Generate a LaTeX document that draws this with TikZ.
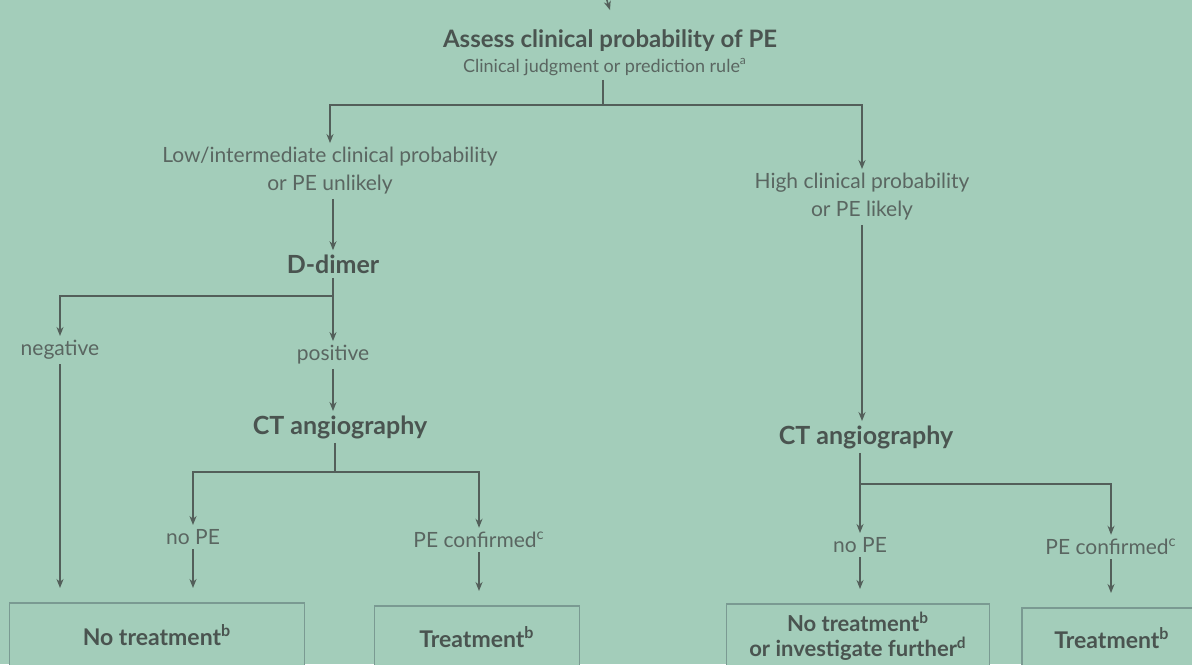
\documentclass[tikz,border=0pt]{standalone}
\usepackage{fontspec}
\setmainfont{Lato}
\usetikzlibrary{arrows.meta}
\definecolor{bg}{HTML}{A3CDBA}
\definecolor{ink}{HTML}{4A5450}
\definecolor{lab}{HTML}{5A6661}
\definecolor{ln}{HTML}{535F5A}
\definecolor{bx}{HTML}{7A9A92}
\tikzset{
  x=0.5pt, y=-0.5pt,
  lbl/.style={text=lab, font=\fontsize{10.5}{14}\selectfont, align=center, inner sep=2pt},
  hd/.style={text=ink, font=\fontsize{12.5}{15}\selectfont\bfseries, align=center, inner sep=2pt},
  outbox/.style={draw=bx, line width=0.8pt, fill=bg, text=ink, font=\fontsize{11.5}{13}\selectfont\bfseries, align=center, anchor=north},
  conn/.style={draw=ln, line width=0.75pt},
  arr/.style={conn, -{Stealth[length=4.5pt,width=3.5pt]}},
  tobox/.style={arr, shorten >=7pt}
}
\begin{document}
\begin{tikzpicture}
\clip (0,0) rectangle (1192,664);
\fill[bg] (0,0) rectangle (1192,664);
% nodes
\node[hd, font=\fontsize{12}{14}\selectfont\bfseries, outer ysep=8pt] (title) at (610,41) {Assess clinical probability of PE};
\node[lbl, font=\fontsize{9}{11}\selectfont] (sub) at (605,67) {Clinical judgment or prediction rule\textsuperscript{a}};
\coordinate (top) at (603,-12);
\coordinate (j1) at (603,105);
\node[lbl] (low) at (330,171) {Low/intermediate clinical probability\\or PE unlikely};
\node[lbl] (high) at (862,197) {High clinical probability\\or PE likely};
\node[hd] (ddimer) at (333,264) {D-dimer};
\coordinate (j2) at (333,296);
\node[lbl] (neg) at (60,350) {negative};
\node[lbl] (pos) at (333,355) {positive};
\node[hd] (ct1) at (340,427) {CT angiography};
\coordinate (j3) at (335,472);
\node[lbl] (nope1) at (193,537) {no PE};
\node[lbl] (conf1) at (479,540) {PE confirmed\textsuperscript{c}};
\node[hd] (ct2) at (866,437) {CT angiography};
\coordinate (j4) at (860,484);
\node[lbl] (nope2) at (860,545) {no PE};
\node[lbl] (conf2) at (1111,547) {PE confirmed\textsuperscript{c}};
\node[outbox, minimum width=147.5pt, minimum height=32pt] (box1) at (157,602) {No treatment\textsuperscript{b}};
\node[outbox, minimum width=102.5pt, minimum height=31pt] (box2) at (477,605) {Treatment\textsuperscript{b}};
\node[outbox, minimum width=131.5pt, minimum height=32pt, font=\fontsize{11}{12.5}\selectfont\bfseries] (box3) at (858,603) {No treatment\textsuperscript{b}\\or investigate further\textsuperscript{d}};
\node[outbox, minimum width=90pt, minimum height=30pt] (box4) at (1112,607) {Treatment\textsuperscript{b}};
% connectors
\draw[arr] (top) -- (title.north);
\draw[conn] (sub.south -| j1) -- (j1);
\draw[arr] (j1) -| (low.north);
\draw[arr] (j1) -| (high.north);
\draw[arr] (low.south -| ddimer) -- (ddimer.north);
\draw[conn] (ddimer.south) -- (j2);
\draw[arr] (j2) -| (neg.north);
\draw[arr] (j2) -- (pos.north);
\draw[arr] (pos.south) -- (pos.south |- ct1.north);
\draw[conn] (ct1.south -| j3) -- (j3);
\draw[arr] (j3) -| (nope1.north);
\draw[arr] (j3) -| (conf1.north);
\draw[tobox] (neg.south) -- (neg.south |- box1.north);
\draw[tobox] (nope1.south) -- (nope1.south |- box1.north);
\draw[tobox] (conf1.south) -- (conf1.south |- box2.north);
\draw[arr] (high.south) -- (high.south |- ct2.north);
\draw[conn] (ct2.south -| j4) -- (j4);
\draw[arr] (j4) -- (nope2.north);
\draw[arr] (j4) -| (conf2.north);
\draw[tobox] (nope2.south) -- (nope2.south |- box3.north);
\draw[tobox] (conf2.south) -- (conf2.south |- box4.north);
\end{tikzpicture}
\end{document}
